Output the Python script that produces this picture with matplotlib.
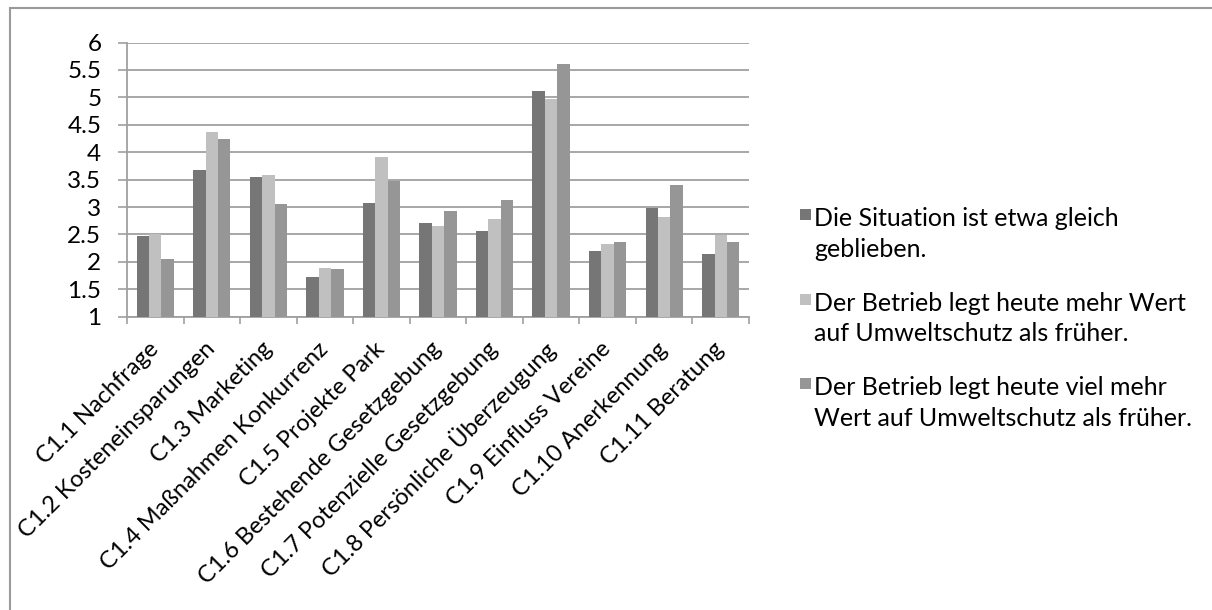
import numpy as np
import matplotlib
matplotlib.use("Agg")
import matplotlib.pyplot as plt
from matplotlib.patches import Rectangle
from matplotlib.ticker import FixedLocator

plt.rcParams['font.family'] = ['Lato', 'DejaVu Sans']

categories = ["C1.1 Nachfrage", "C1.2 Kosteneinsparungen", "C1.3 Marketing",
              "C1.4 Maßnahmen Konkurrenz", "C1.5 Projekte Park",
              "C1.6 Bestehende Gesetzgebung", "C1.7 Potenzielle Gesetzgebung",
              "C1.8 Persönliche Überzeugung", "C1.9 Einfluss Vereine",
              "C1.10 Anerkennung", "C1.11 Beratung"]

gleich = [2.47, 3.67, 3.55, 1.72, 3.07, 2.71, 2.56, 5.11, 2.19, 2.99, 2.14]
mehr = [2.50, 4.36, 3.59, 1.88, 3.91, 2.66, 2.79, 4.97, 2.32, 2.82, 2.49]
viel_mehr = [2.05, 4.24, 3.05, 1.87, 3.47, 2.93, 3.13, 5.61, 2.37, 3.41, 2.37]

labels = ["Die Situation ist etwa gleich\ngeblieben.",
          "Der Betrieb legt heute mehr Wert\nauf Umweltschutz als früher.",
          "Der Betrieb legt heute viel mehr\nWert auf Umweltschutz als früher."]
colors = ["#767676", "#c0c0c0", "#969696"]

W, H = 1212, 610
fig = plt.figure(figsize=(W / 100, H / 100), dpi=100)
ax = fig.add_axes([127 / W, 1 - 316.7 / H, (749 - 127) / W, (316.7 - 42.5) / H])

grid_col = "#a0a0a0"
x = np.arange(len(categories))
bw = 0.22
for i, (vals, col) in enumerate(zip([gleich, mehr, viel_mehr], colors)):
    ax.bar(x + (i - 1) * bw, vals, bw, color=col, zorder=3)

ax.set_xlim(-0.5, len(categories) - 0.5)
ax.set_ylim(1, 6)
ax.set_yticks(np.arange(1, 6.01, 0.5))
ax.set_yticklabels(["1", "1.5", "2", "2.5", "3", "3.5", "4", "4.5", "5", "5.5", "6"])
ax.yaxis.grid(True, color=grid_col, lw=1.3, zorder=0)
ax.tick_params(axis='y', length=6.5, width=1.2, color=grid_col, pad=12, labelsize=17.5)

ax.set_xticks(x)
ax.set_xticklabels(categories, rotation=45, ha='right', va='center',
                   rotation_mode='anchor', fontsize=17)
ax.tick_params(axis='x', which='major', length=0, pad=21)
ax.xaxis.set_minor_locator(FixedLocator(np.arange(-0.5, len(categories), 1)))
ax.tick_params(axis='x', which='minor', length=5, width=1.2, color=grid_col)

for s in ['top', 'right']:
    ax.spines[s].set_visible(False)
for s in ['left', 'bottom']:
    ax.spines[s].set_color(grid_col)
    ax.spines[s].set_linewidth(1.3)

# legend drawn by hand so the square sits on the first line
for i, (lab, col) in enumerate(zip(labels, colors)):
    top = 209 + 84.5 * i
    fig.add_artist(Rectangle((800 / W, 1 - (top + 11) / H), 11 / W, 11 / H,
                             transform=fig.transFigure, color=col, lw=0))
    fig.text(814 / W, 1 - (top - 2) / H, lab, va='top', ha='left',
             fontsize=18, linespacing=1.42)

# outer chart border
fig.add_artist(Rectangle((9.5 / W, -0.1), 1.2, 1.1 - 7.5 / H, fill=False,
                         edgecolor="#9a9a9a", lw=1.5, transform=fig.transFigure,
                         clip_on=False))

fig.savefig("out.png", dpi=100)
